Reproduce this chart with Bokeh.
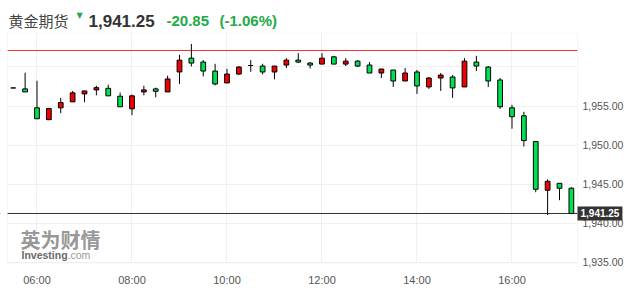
from bokeh.plotting import figure
from bokeh.models import (Range1d, FixedTicker, Label, Span, ColumnDataSource,
                          NumeralTickFormatter, BoxAnnotation)
from bokeh.embed import file_html
from bokeh.resources import INLINE

# ---- data (15-minute candles) ----
times = ["05:30", "05:45", "06:00", "06:15", "06:30", "06:45", "07:00", "07:15",
         "07:30", "07:45", "08:00", "08:15", "08:30", "08:45", "09:00", "09:15",
         "09:30", "09:45", "10:00", "10:15", "10:30", "10:45", "11:00", "11:15",
         "11:30", "11:45", "12:00", "12:15", "12:30", "12:45", "13:00", "13:15",
         "13:30", "13:45", "14:00", "14:15", "14:30", "14:45", "15:00", "15:15",
         "15:30", "15:45", "16:00", "16:15", "16:30", "16:45", "17:00", "17:15"]
opens = [1957.31, 1957.19, 1954.77, 1953.25, 1954.77, 1955.53, 1956.55, 1957.06,
         1957.26, 1956.25, 1954.64, 1956.80, 1957.19, 1956.80, 1959.35, 1961.12,
         1960.62, 1959.47, 1957.95, 1959.09, 1960.18, 1960.11, 1959.35, 1960.24,
         1960.87, 1960.49, 1960.36, 1961.29, 1960.36, 1960.74, 1960.24, 1959.22,
         1959.60, 1958.20, 1959.35, 1957.44, 1958.58, 1958.71, 1957.44, 1960.62,
         1959.98, 1958.33, 1954.77, 1953.75, 1950.45, 1944.22, 1945.11, 1944.48]
highs = [1957.31, 1959.26, 1958.24, 1954.77, 1956.04, 1956.93, 1956.93, 1957.60,
         1957.73, 1956.72, 1956.46, 1957.60, 1957.35, 1958.88, 1961.54, 1962.94,
         1960.87, 1960.40, 1959.76, 1960.11, 1960.87, 1960.40, 1960.11, 1961.12,
         1961.76, 1960.62, 1961.76, 1961.42, 1961.12, 1960.87, 1960.62, 1959.73,
         1959.60, 1959.85, 1959.60, 1958.71, 1959.22, 1958.96, 1961.12, 1961.42,
         1960.11, 1958.58, 1955.15, 1954.26, 1950.45, 1945.62, 1945.11, 1944.61]
lows = [1957.31, 1956.80, 1953.37, 1953.20, 1954.09, 1955.53, 1955.48, 1956.37,
        1956.30, 1954.90, 1953.83, 1956.37, 1956.12, 1956.80, 1957.82, 1960.06,
        1958.79, 1957.64, 1957.95, 1958.96, 1959.38, 1959.04, 1958.41, 1959.85,
        1960.49, 1959.80, 1960.36, 1960.36, 1960.11, 1959.98, 1959.22, 1958.58,
        1957.44, 1958.20, 1956.55, 1957.19, 1956.93, 1956.04, 1957.44, 1959.47,
        1957.44, 1954.64, 1952.10, 1949.82, 1943.97, 1941.05, 1942.95, 1941.25]
closes = [1957.31, 1956.80, 1953.37, 1954.68, 1955.44, 1956.68, 1956.93, 1957.35,
          1956.30, 1954.90, 1956.30, 1957.06, 1956.88, 1958.46, 1960.87, 1960.49,
          1959.47, 1957.82, 1959.09, 1959.98, 1960.18, 1959.35, 1960.11, 1960.87,
          1960.62, 1960.24, 1961.12, 1960.36, 1960.74, 1960.11, 1959.22, 1959.73,
          1958.20, 1959.22, 1957.57, 1958.58, 1958.96, 1957.31, 1960.74, 1960.11,
          1958.20, 1954.90, 1953.63, 1950.58, 1944.35, 1945.37, 1944.48, 1941.25]
prev_close = 1962.10
last_price = 1941.25
change = "-20.85"
change_pct = "(-1.06%)"
title_name = "黄金期货"
x_tick_hours = [6, 8, 10, 12, 14, 16]
x_tick_labels = ["06:00", "08:00", "10:00", "12:00", "14:00", "16:00"]
y_ticks = [1935, 1940, 1945, 1950, 1955, 1960]

UP = "#f20000"
DOWN = "#00e052"
GREEN_TXT = "#22aa47"
GRID = "#f0f0f4"
BORDER = "#e2e2ea"

# visible ranges of the whole canvas, and the edges of the plotting box inside it
X_START, X_END = 5.2316, 18.516
X_BOX_L, X_BOX_R = 5.379, 17.379
Y_START, Y_END = 1931.272, 1968.496
Y_BOX_B, Y_BOX_T = 1934.918, 1964.339


def to_hours(t):
    hh, mm = t.split(":")
    return int(hh) + int(mm) / 60.0


xs = [to_hours(t) for t in times]
colors = [UP if c > o else (DOWN if c < o else "#000000") for o, c in zip(opens, closes)]
src = ColumnDataSource(dict(
    x=xs, high=highs, low=lows,
    top=[max(o, c) for o, c in zip(opens, closes)],
    bottom=[min(o, c) for o, c in zip(opens, closes)],
    color=colors,
))

p = figure(width=631, height=291, output_backend="svg", toolbar_location=None,
           x_range=Range1d(X_START, X_END), y_range=Range1d(Y_START, Y_END),
           min_border_left=0, min_border_right=0, min_border_top=0, min_border_bottom=0,
           y_axis_location="right")
p.background_fill_color = "white"
p.border_fill_color = "white"
p.outline_line_color = None

xt = FixedTicker(ticks=x_tick_hours)
yt = FixedTicker(ticks=y_ticks)
p.xaxis.ticker = xt
p.xgrid.ticker = xt
p.yaxis.ticker = yt
p.ygrid.ticker = yt
p.xaxis.major_label_overrides = {hh: lab for hh, lab in zip(x_tick_hours, x_tick_labels)}
p.yaxis.formatter = NumeralTickFormatter(format="0,0.00")
p.yaxis.major_label_overrides = {1960: ""}
p.yaxis.fixed_location = X_BOX_R
p.xaxis.fixed_location = Y_BOX_B
for ax in (p.xaxis, p.yaxis):
    ax.axis_line_color = None
    ax.major_tick_line_color = None
    ax.minor_tick_line_color = None
    ax.major_tick_out = 0
    ax.major_tick_in = 0
    ax.major_label_text_color = "#555555"
    ax.major_label_text_font = "Liberation Sans"
p.xaxis.major_label_text_font_size = "11px"
p.xaxis.major_label_standoff = 11
p.yaxis.major_label_text_font_size = "10.5px"
p.yaxis.major_label_standoff = 5
p.xgrid.grid_line_color = GRID
p.ygrid.grid_line_color = GRID

# reference lines (underlay, then masked outside the plotting box)
p.add_layout(Span(location=prev_close, dimension="width", line_color="#f23434",
                  line_width=1, level="underlay"))
p.add_layout(Span(location=last_price, dimension="width", line_color="#333333",
                  line_width=1, level="underlay"))
for kw in (dict(left=X_BOX_R), dict(right=X_BOX_L), dict(top=Y_BOX_B), dict(bottom=Y_BOX_T)):
    p.add_layout(BoxAnnotation(fill_color="white", fill_alpha=1.0, line_color=None,
                               level="underlay", **kw))
p.add_layout(BoxAnnotation(left=X_BOX_L, right=X_BOX_R, bottom=Y_BOX_B, top=Y_BOX_T,
                           fill_alpha=0.0, line_color=BORDER, line_width=1, level="underlay"))

# candles
p.segment(x0="x", y0="high", x1="x", y1="low", source=src, line_color="black", line_width=1)
p.vbar(x="x", top="top", bottom="bottom", width=0.1, source=src,
       fill_color="color", line_color="black", line_width=1)


def slabel(x, y, text, **kw):
    p.add_layout(Label(x=x, y=y, x_units="screen", y_units="screen", text=text,
                       text_baseline="middle", **kw))


# header
slabel(8, 271, title_name, text_font="Noto Sans CJK SC", text_font_size="15px",
       text_color="#444444")
slabel(79, 276, "▼", text_font="DejaVu Sans", text_font_size="8px",
       text_color=GREEN_TXT, text_align="center")
slabel(88, 271, "{:,.2f}".format(last_price), text_font="Liberation Sans",
       text_font_style="bold", text_font_size="17px", text_color="#333333")
slabel(166, 271, change, text_font="Liberation Sans", text_font_style="bold",
       text_font_size="15px", text_color=GREEN_TXT)
slabel(219, 271, change_pct, text_font="Liberation Sans", text_font_style="bold",
       text_font_size="15px", text_color=GREEN_TXT)

# watermark
slabel(20, 52, "英为财情", text_font="Noto Sans CJK SC", text_font_style="bold",
       text_font_size="20px", text_color="#8a8a8a", text_alpha=0.9)
slabel(21, 37, "Investing", text_font="Liberation Sans", text_font_style="bold",
       text_font_size="10.5px", text_color="#6a6a6a")
slabel(67, 37, ".com", text_font="Liberation Sans", text_font_size="10.5px",
       text_color="#999999")

# last-price tag on the price axis
p.add_layout(Label(x=X_BOX_R, y=last_price, text="{:,.2f}".format(last_price),
                   text_font="Liberation Sans", text_font_style="bold", text_font_size="10px",
                   text_color="white", text_baseline="middle",
                   background_fill_color="#333333", padding=3))

open("out.html", "w").write(file_html(p, INLINE))
